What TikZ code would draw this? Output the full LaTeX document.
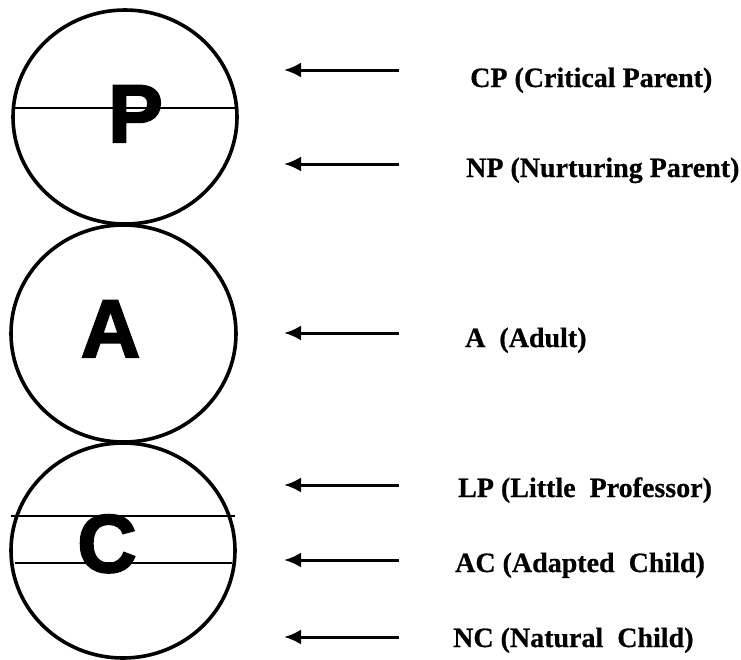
\documentclass[tikz,border=0pt]{standalone}
\usepackage{fontspec}
\setmainfont{Liberation Serif}[BoldFeatures={FakeBold=0.6}]
\newfontfamily\letterfont{Liberation Sans}[BoldFeatures={FakeBold=2.5}]
\usetikzlibrary{shapes.geometric,arrows.meta}

\begin{document}
\begin{tikzpicture}[x=1pt,y=-1pt,
  ego/.style={ellipse, draw, line width=3.6pt, inner sep=0pt},
  egoletter/.style={inner sep=0pt, anchor=base, font=\letterfont\bfseries\fontsize{82}{82}\selectfont},
  divider/.style={line width=2.3pt},
  pointer/.style={line width=3pt, -{Latex[length=17pt,width=15pt]}},
  statelabel/.style={inner sep=0pt, anchor=base west, font=\bfseries\fontsize{28}{30}\selectfont}]
  \useasboundingbox (0,0) rectangle (741,659);

  % the three ego states
  \node[ego, minimum width=224pt, minimum height=214pt] (P) at (125,117) {};
  \node[ego, minimum width=225pt, minimum height=217pt] (A) at (123.5,333.5) {};
  \node[ego, minimum width=224pt, minimum height=215pt] (C) at (123,550.5) {};

  % subdivisions of Parent and Child
  \coordinate (pdl) at (13,108);  \coordinate (pdr) at (237,108);
  \coordinate (cdl) at (11,516);  \coordinate (cdr) at (235,516);
  \coordinate (cel) at (15,563);  \coordinate (cer) at (232,563);
  \draw[divider] (pdl) -- (pdr);
  \draw[divider] (cdl) -- (cdr);
  \draw[divider] (cel) -- (cer);

  % letters
  \node[egoletter] (Pl) at (135.5,142) {P};
  \node[egoletter] (Al) at (110.5,357) {A};
  \node[egoletter] (Cl) at (107,572) {C};

  % labels
  \node[statelabel] (cp) at (470,87)  {CP (Critical Parent)};
  \node[statelabel] (np) at (466,177) {NP (Nurturing Parent)};
  \node[statelabel] (ad) at (465,347) {A~ (Adult)};
  \node[statelabel] (lp) at (458,497) {LP (Little~ Professor)};
  \node[statelabel] (ac) at (455,572) {AC (Adapted~ Child)};
  \node[statelabel] (nc) at (453,647) {NC (Natural~ Child)};

  % arrows pointing from each label back to the diagram
  \foreach \n/\y in {cp/70, np/164, ad/333, lp/485, ac/560, nc/637} {
    \coordinate (\n s) at (399,\y);
    \coordinate (\n t) at (284,\y);
    \draw[pointer] (\n s) -- (\n t);
  }
\end{tikzpicture}
\end{document}
